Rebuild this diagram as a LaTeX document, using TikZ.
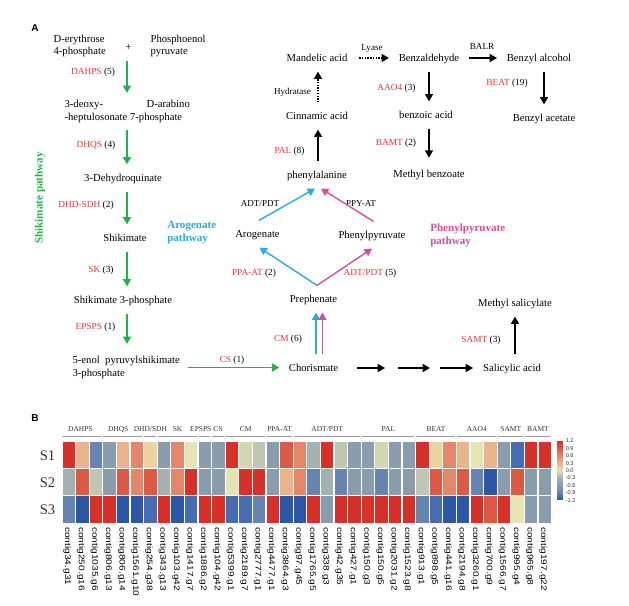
\documentclass[tikz,border=0pt]{standalone}
\usepackage{fontspec}
\usepackage{graphicx}
\setmainfont{Liberation Serif}
\setsansfont{Liberation Sans}
\usetikzlibrary{arrows.meta,calc}
\definecolor{egreen}{RGB}{34,177,76}
\definecolor{eblue}{RGB}{41,171,226}
\definecolor{epink}{RGB}{214,77,157}
\definecolor{ered}{RGB}{237,50,55}
\definecolor{grpgray}{RGB}{150,150,150}
\definecolor{hmR}{RGB}{214,48,40}
\definecolor{hmT}{RGB}{222,88,70}
\definecolor{hmS}{RGB}{228,135,105}
\definecolor{hmP}{RGB}{234,180,138}
\definecolor{hmQ}{RGB}{236,212,160}
\definecolor{hmY}{RGB}{230,228,178}
\definecolor{hmGtwo}{RGB}{212,214,178}
\definecolor{hmG}{RGB}{192,198,180}
\definecolor{hmL}{RGB}{165,176,176}
\definecolor{hmGB}{RGB}{138,157,175}
\definecolor{hmSB}{RGB}{102,132,178}
\definecolor{hmMB}{RGB}{72,108,176}
\definecolor{hmB}{RGB}{44,86,166}
\newcommand\hmsl{/}
\begin{document}
\begin{tikzpicture}[x=0.75pt,y=-0.75pt,
  chem/.style={font=\fontsize{8}{9.2}\selectfont, inner xsep=1pt, inner ysep=5.5pt, text height=0.7em, text depth=0.2em},
  chemtwo/.style={font=\fontsize{8}{9.2}\selectfont, inner xsep=1pt, inner ysep=5.5pt, align=left},
  enz/.style={font=\fontsize{7}{8}\selectfont, inner sep=0pt},
  smalllbl/.style={font=\fontsize{6.8}{8}\selectfont, inner sep=0pt},
  pathlbl/.style={font=\bfseries\fontsize{8.3}{9.8}\selectfont, inner sep=0pt, align=left},
  panel/.style={font=\sffamily\bfseries\fontsize{7.5}{9}\selectfont, inner sep=0pt},
  tipstyle/.style={-{Triangle[length=5.5pt,width=6pt]}},
  garrow/.style={draw=egreen, line width=1.15pt, tipstyle},
  karrow/.style={draw=black, line width=1.05pt, tipstyle},
  barrow/.style={draw=eblue, line width=1.05pt, tipstyle},
  parrow/.style={draw=epink, line width=1.05pt, tipstyle},
  grplbl/.style={font=\fontsize{5.6}{6.5}\selectfont, text=black!80, inner sep=0pt, anchor=base},
  grpline/.style={draw=grpgray, line width=0.9pt},
  rowlbl/.style={font=\fontsize{11}{12}\selectfont, text=black!80, inner sep=0pt},
  collbl/.style={font=\sffamily\fontsize{7.6}{8}\selectfont, inner sep=0pt},
  leglbl/.style={font=\sffamily\fontsize{4.2}{5}\selectfont, inner sep=0pt, text=black!80}
]
\useasboundingbox (0,0) rectangle (629,606);

% ---------- Panel A ----------
\node[panel] (A) at (35,28) {A};
\node[pathlbl, text=egreen, rotate=90] (shpw) at (40,198) {Shikimate pathway};
\node[pathlbl, text=eblue, anchor=west] (arpw) at (167,233) {Arogenate\\pathway};
\node[pathlbl, text=epink, anchor=west] (pppw) at (430,235) {Phenylpyruvate\\pathway};

\coordinate (spine) at (127,0);
\node[chemtwo, anchor=west] (e4p) at (52,46) {D-erythrose\\4-phosphate};
\node[chem] (plus) at (128.5,47) {+};
\node[chemtwo, anchor=west] (pep) at (149,46) {Phosphoenol\\pyruvate};
\node[enz] (dahps) at (93,72) {\textcolor{ered}{DAHPS} (5)};
\node[chemtwo, anchor=west] (dahp) at (63,111.5) {\makebox[61.5pt][l]{3-deoxy-}D-arabino\\-heptulosonate 7-phosphate};
\node[enz] (dhqs) at (96,145) {\textcolor{ered}{DHQS} (4)};
\node[chem] (dhq) at (123,178) {3-Dehydroquinate};
\node[enz] (dhdsdh) at (86,205) {\textcolor{ered}{DHD-SDH} (2)};
\node[chem] (shik) at (125,238) {Shikimate};
\node[enz] (sk) at (101,270) {\textcolor{ered}{SK} (3)};
\node[chem] (s3p) at (123,300) {Shikimate 3-phosphate};
\node[enz] (epsps) at (95.5,327) {\textcolor{ered}{EPSPS} (1)};
\node[chemtwo, anchor=west] (epsp) at (71,367.5) {5-enol\ \ pyruvylshikimate\\3-phosphate};
\node[enz] (cs) at (232,360) {\textcolor{ered}{CS} (1)};
\node[chem] (chor) at (313.5,368) {Chorismate};
\node[chem] (prep) at (313.5,299) {Prephenate};
\node[enz] (cm) at (288,339) {\textcolor{ered}{CM} (6)};
\node[chem] (arog) at (257.5,234) {Arogenate};
\node[chem] (phpy) at (372,235) {Phenylpyruvate};
\node[enz] (ppaat) at (254,273) {\textcolor{ered}{PPA-AT} (2)};
\node[enz] (adtpdtf) at (370,273) {\textcolor{ered}{ADT/PDT} (5)};
\node[smalllbl] (adtpdt) at (260,204) {ADT/PDT};
\node[smalllbl] (ppyat) at (361,204) {PPY-AT};
\node[chem] (phe) at (317,175) {phenylalanine};
\node[enz] (pal) at (289.5,151) {\textcolor{ered}{PAL} (8)};
\node[chem] (cin) at (317,116) {Cinnamic acid};
\node[smalllbl] (hyd) at (292.5,92) {Hydratase};
\node[chem] (mand) at (317,58) {Mandelic acid};
\node[smalllbl] (lyase) at (372,49) {Lyase};
\node[chem] (bzald) at (429,58) {Benzaldehyde};
\node[smalllbl] (balr) at (482,47) {BALR};
\node[chem] (bzalc) at (539,58) {Benzyl alcohol};
\node[enz] (beat) at (507,83) {\textcolor{ered}{BEAT} (19)};
\node[chem] (bzac) at (544,118) {Benzyl acetate};
\node[enz] (aao) at (396.5,88) {\textcolor{ered}{AAO4} (3)};
\node[chem] (bzoic) at (426,115) {benzoic acid};
\node[enz] (bamt) at (396,143) {\textcolor{ered}{BAMT} (2)};
\node[chem] (mebz) at (429,174) {Methyl benzoate};
\node[chem] (sal) at (512,368) {Salicylic acid};
\node[enz] (samt) at (481,340) {\textcolor{ered}{SAMT} (3)};
\node[chem] (mesal) at (515,303) {Methyl salicylate};

% shikimate chain
\draw[garrow] (spine |- plus.south) -- (spine |- dahp.north);
\draw[garrow] (spine |- dahp.south) -- (spine |- dhq.north);
\draw[garrow] (spine |- dhq.south) -- (spine |- shik.north);
\draw[garrow] (spine |- shik.south) -- (spine |- s3p.north);
\draw[garrow, shorten >=3.75pt] (spine |- s3p.south) -- (spine |- epsp.north);
\draw[garrow, shorten <=5pt, shorten >=6pt] (epsp.east) -- (epsp.east -| chor.west);

% chorismate -> prephenate
\draw[barrow] ($(chor.north)+(2.5,0)$) -- ($(prep.south)+(2.5,0)$);
\draw[parrow] ($(chor.north)+(9,0)$) -- ($(prep.south)+(9,0)$);
% prephenate branches
\draw[barrow] ($(prep.north)+(3.5,0)$) -- ($(arog.south)+(2,0)$);
\draw[parrow] ($(prep.north)+(3.5,0)$) -- (phpy.south);
\draw[barrow] ($(arog.north)+(1.5,0)$) -- ($(phe.south)+(-2,0)$);
\draw[parrow] ($(phpy.north)+(1.5,0)$) -- ($(phe.south)+(4,0)$);
% phenylalanine upward
\draw[karrow] ($(phe.north)+(1,0)$) -- ($(cin.south)+(1,0)$);
\draw[karrow, densely dotted] ($(cin.north)+(1,0)$) -- ($(mand.south)+(1,0)$);
\draw[karrow, densely dotted, shorten <=7.7pt, shorten >=6.2pt] (mand.east) -- (mand.east -| bzald.west);
\draw[karrow, shorten <=6.2pt, shorten >=6.2pt] (bzald.east) -- (bzald.east -| bzalc.west);
\draw[karrow] (bzac.north |- bzalc.south) -- (bzac.north);
\draw[karrow] (bzald.south) -- (bzald.south |- bzoic.north);
\draw[karrow, shorten >=2pt] (mebz.north |- bzoic.south) -- (mebz.north);
% chorismate -> salicylic acid
\coordinate (ka) at (357,368);
\coordinate (kb) at (385,368);
\coordinate (kc) at (398,368);
\coordinate (kd) at (430,368);
\coordinate (ke) at (440,368);
\coordinate (kf) at (473,368);
\draw[karrow] (ka) -- (kb);
\draw[karrow] (kc) -- (kd);
\draw[karrow] (ke) -- (kf);
\draw[karrow] (mesal.south |- sal.north) -- (mesal.south);

% ---------- Panel B ----------
\node[panel] (B) at (35,418) {B};

\foreach \g/\s/\n/\dx in {DAHPS/0/3/-2, DHQS/3/3/-5, DHD\hmsl SDH/6/1/0, SK/7/3/0, EPSPS/10/1/-4, CS/11/1/-0.5, CM/12/3/0, PPA-AT/15/2/0, ADT\hmsl PDT/17/5/0, PAL/22/4/0, BEAT/26/3/0, AAO4/29/3/0, SAMT/32/2/0, BAMT/34/2/0} {
  \node[grplbl] (g\s) at ({62+(\s+\n/2)*13.6+\dx},431.2) {\g};
  \draw[grpline] ({62+\s*13.6+0.5},436.8) -- ({62+(\s+\n)*13.6-1.5},436.8);
}

\foreach \c [count=\i from 0] in {R,P,SB,GB,P,S,Q,GB,S,Y,GB,GB,R,Gtwo,G,GB,T,S,L,R,G,GB,GB,Gtwo,GB,GB,R,Q,S,P,Y,P,GB,MB,R,R}
  \filldraw[fill=hm\c, draw=white, line width=0.8pt] ({62+\i*13.6},441.5) rectangle ++(13.6,27.2);
\foreach \c [count=\i from 0] in {L,T,G,GB,T,S,T,L,S,R,GB,GB,Y,R,R,GB,P,S,SB,L,SB,GB,GB,SB,GB,GB,G,T,S,T,SB,B,GB,T,GB,GB}
  \filldraw[fill=hm\c, draw=white, line width=0.8pt] ({62+\i*13.6},468.7) rectangle ++(13.6,27.2);
\foreach \c [count=\i from 0] in {SB,B,R,R,B,B,MB,R,B,MB,R,R,MB,MB,SB,R,B,B,R,GB,R,R,R,R,R,R,SB,MB,B,B,R,T,R,Y,GB,GB}
  \filldraw[fill=hm\c, draw=white, line width=0.8pt] ({62+\i*13.6},495.9) rectangle ++(13.6,27.2);

\node[rowlbl] (sone) at (47.5,455.5) {S1};
\node[rowlbl] (stwo) at (47.5,482.5) {S2};
\node[rowlbl] (sthree) at (47.5,510) {S3};

\foreach \n [count=\i] in {contig34.g31, contig250.g16, contig1035.g6, contig806.g13, contig806.g14, contig1561.g10, contig254.g38, contig343.g13, contig103.g42, contig1417.g7, contig1886.g2, contig104.g42, contig5399.g1, contig2189.g7, contig2777.g1, contig4477.g1, contig3864.g3, contig97.g45, contig1765.g5, contig338.g3, contig42.g35, contig427.g1, contig150.g3, contig150.g5, contig2031.g2, contig1523.g8, contig913.g1, contig898.g5, contig441.g16, contig2194.g8, contig3260.g1, contig700.g9, contig1566.g7, contig995.g4, contig965.g8, contig197.g22}
  \node[collbl, rotate=-90, anchor=west] (cl\i) at ({62+(\i-0.5)*13.6-1.5},527) {\scalebox{1}[0.8]{\n}};

% legend
\foreach \ca/\cb [count=\k from 0] in {hmR/hmT, hmT/hmS, hmS/hmP, hmP/hmY, hmY/hmL, hmL/hmGB, hmGB/hmSB, hmSB/hmB} {
  \foreach \j in {0,...,7} {
    \pgfmathtruncatemacro\pp{100-\j*100/8}
    \fill[fill=\ca!\pp!\cb] (557,{441+(\k*8+\j)*59/64}) rectangle ++(6,{59/64+0.3});
  }
}
\foreach \v [count=\k from 0] in {1.2,0.9,0.6,0.3,0.0,-0.3,-0.6,-0.9,-1.2}
  \node[leglbl, anchor=west] (lg\k) at (565.5,{441+\k*7.4}) {\v};
\end{tikzpicture}
\end{document}
